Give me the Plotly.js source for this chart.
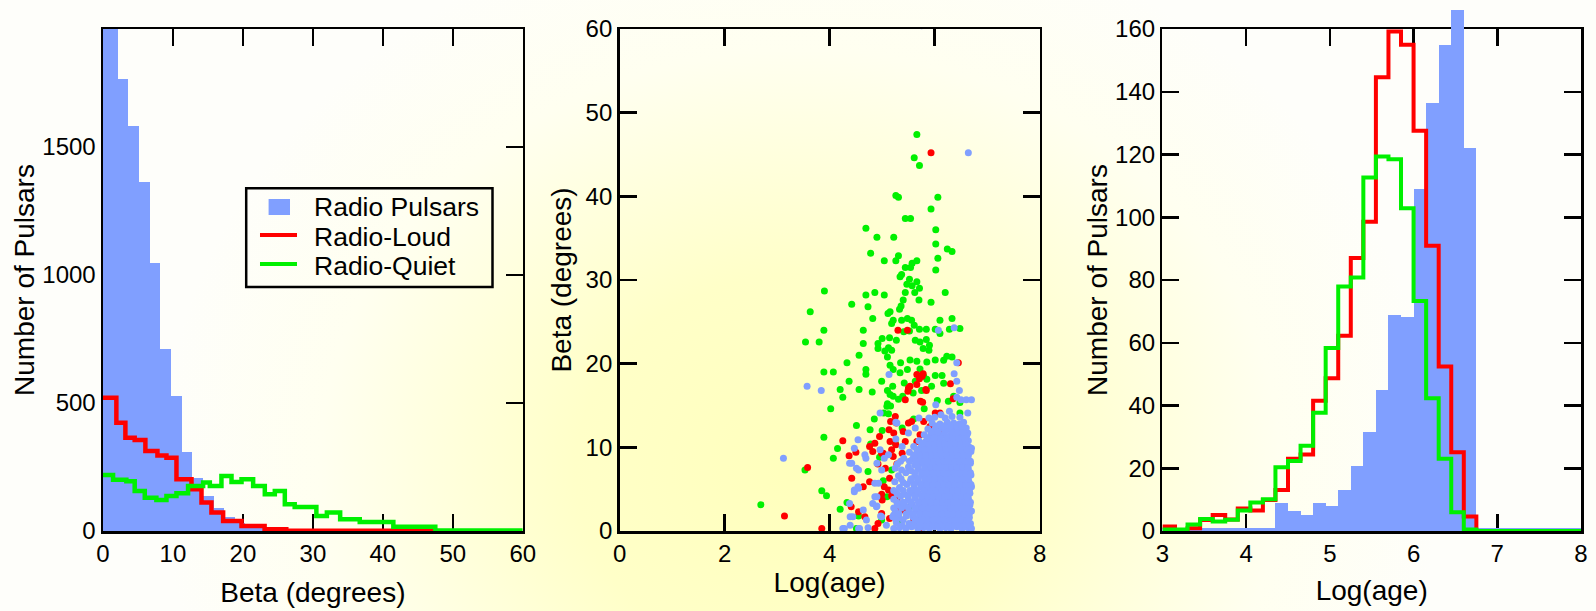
<!DOCTYPE html>
<html><head><meta charset="utf-8">
<script src="https://cdn.plot.ly/plotly-3.0.1.min.js"></script>
<style>
html,body{margin:0;padding:0;width:1596px;height:611px;overflow:hidden;
background: radial-gradient(ellipse 640px 560px at 800px 470px, #ffffbc 0%, #ffffc8 35%, #fffff0 75%, #fefefa 100%);}
#chart{width:1596px;height:611px;}
</style></head><body><div id="chart"></div>
<script>
// ---------- Left panel: histogram of Beta ----------
// Radio pulsars, bins of ~1.52 deg (first bin centred at -0.16)
const betaPulsarCounts = [1960,1960,1763,1580,1363,1045,709,527,310,208,135,90,55,32,18,10,6,4,3,2,
  1.5,1.5,1.5,1.5,1.5,1.5,1.5,1.5,1.5,1.5,1.5,1.5,1.5,1.5,1.5,1.5,1.5,1.5,1.5,1.5];
const betaLoudEdges  = [0,1.91,3.2,4.53,6.06,7.78,9.07,10.5,12.65,14.08,15.5,17.17,19.8,23.1,26.2,47.6];
const betaLoudCounts = [520,423,364,355,312,295,286,202,163,111,72,39,20,7,1];
const betaQuietEdges  = [0,1.44,3.34,4.53,5.97,7.63,9.07,10.5,12.16,14.31,15.27,16.93,18.37,19.8,21.46,23.13,24.56,25.99,27.4,30.5,32.0,33.9,36.7,41.5,47.5,60];
const betaQuietCounts = [219,200,194,156,130,121,137,147,176,189,176,215,191,202,176,143,156,104,94,59,72,46,35,17,2];

// ---------- Middle panel: Beta vs Log(age) ----------
const quietAge = [5.66,5.61,5.71,5.26,5.31,6.06,5.93,5.44,5.54,6.02,
  4.69,4.90,5.22,6.02,6.24,6.33,4.78,5.31,5.26,5.04,
  5.66,5.57,6.06,5.44,5.54,6.02,5.37,5.34,5.52,5.66,
  5.47,5.57,5.71,5.62,3.90,4.69,4.86,5.04,6.20,5.44,
  5.93,5.70,5.40,5.36,5.33,5.15,5.11,4.42,4.73,3.63,
  4.82,6.33,6.10,5.56,5.48,5.21,5.18,5.37,5.84,5.71,
  6.01,5.61,5.52,5.41,5.27,5.14,5.63,5.72,5.84,5.90,
  5.78,5.89,6.10,6.28,6.48,3.89,4.64,3.54,3.80,4.64,
  4.92,4.92,5.00,4.56,4.33,5.05,5.12,4.69,4.69,3.89,
  4.07,4.37,4.20,4.25,4.56,4.81,4.99,5.10,5.10,5.12,
  4.02,4.51,4.77,3.89,4.85,5.00,4.15,4.07,3.53,4.73,
  3.85,3.94,2.69,4.20,4.33,4.55,4.51,4.99,6.23,6.33,
  6.17,6.01,5.85,5.66,5.53,5.21,5.15,5.10,5.18,5.35,
  5.48,5.72,5.79,6.01,6.14,5.85,5.63,5.42,5.34,5.20,
  5.15,5.21,5.31,5.39,5.59,5.75,5.94,6.17,6.36,6.48,
  6.48,6.26,5.09,5.16,5.03,5.09,5.18,5.34,5.53,5.02,
  5.25,5.38,5.60,5.80,6.05,4.95,4.78];
const quietBeta = [47.4,44.6,43.7,40.1,39.9,39.9,38.5,37.35,37.35,36.0,
  36.2,35.1,35.1,34.3,33.7,33.4,33.2,32.9,32.3,32.3,
  32.3,32.0,32.6,31.5,31.5,31.2,30.65,30.4,30.1,29.8,
  29.5,29.3,29.0,28.5,28.7,28.2,28.5,28.2,28.5,28.5,
  27.35,27.6,27.6,26.9,26.5,26.2,26.0,27.1,26.8,26.2,
  25.4,25.4,25.2,25.2,25.4,25.2,24.8,25.2,24.1,24.1,
  24.1,24.6,23.9,23.8,22.8,23.1,22.8,22.6,22.9,22.2,
  21.8,21.6,23.6,24.1,24.2,24.0,24.0,22.6,22.6,22.4,
  22.4,21.8,23.0,21.0,20.1,21.5,21.9,19.3,18.75,19.0,
  19.0,17.9,16.9,16.0,16.9,16.6,17.9,16.8,15.2,14.0,
  14.6,12.6,12.1,11.2,13.4,12.0,9.85,8.7,7.3,7.1,
  4.8,4.2,3.15,2.6,3.4,1.8,0.3,1.3,20.9,20.8,
  20.4,20.45,20.2,20.3,20.45,19.3,19.8,20.8,21.6,20.1,
  19.3,19.35,18.5,18.6,18.6,18.15,17.9,17.7,18.9,17.3,
  16.3,16.1,15.75,16.1,16.5,16.8,17.3,17.65,16.1,15.35,
  14.1,15.5,14.9,14.95,14.1,4.1,7.3,0.9,2.9,6.0,
  10.5,12.3,13.4,14.6,15.6,8.8,10.4];

const loudAge = [5.93,5.30,5.48,4.25,4.37,4.50,3.58,3.14,3.85,6.45,
  5.78,5.76,5.71,5.53,5.49,5.84,5.44,5.73,5.77,6.30,
  6.35,5.25,5.16,5.27,6.10,5.56,5.79,5.91,6.07,5.98,
  5.85,5.72,5.66,5.40,5.44,5.15,5.18,5.02,5.21,5.06,
  5.28,5.14,5.04,5.00,5.18,5.28,5.40,5.60,5.72,4.86,
  4.82,4.95,5.13,5.26,4.99,4.42,4.55,4.76,4.64,4.92,
  4.86,5.14,4.99,5.26,4.95,4.41,4.67,4.99,5.12,5.22,
  5.38,5.50,5.66,5.50,5.83,6.01,5.66,4.76,4.92];
const loudBeta = [45.2,24.0,24.0,10.8,9.0,9.4,7.6,1.8,0.3,20.1,
  18.8,18.5,18.2,17.3,16.7,16.8,15.7,15.5,15.4,17.6,
  15.8,13.7,13.1,12.9,14.1,13.1,13.1,12.5,11.9,11.2,
  10.7,11.5,10.7,11.9,10.7,10.7,9.7,9.3,8.9,7.5,
  8.0,6.3,5.3,3.7,4.2,3.7,2.5,1.3,0.3,10.5,
  9.5,11.3,12.1,10.3,9.3,6.3,2.3,5.9,5.3,0.9,
  0.3,1.5,2.1,2.7,4.1,2.9,1.7,4.4,4.9,11.7,
  9.3,12.9,17.5,17.1,16.9,14.1,18.7,10.1,8.0];

const pulsarAge = [
  6.64,5.75,3.12,3.57,3.84,5.13,6.07,6.37,6.42,5.28,4.96,4.54,4.47,4.67,4.38,4.51,4.54,4.47,4.38,4.44,
  4.28,4.57,4.73,4.70,4.86,4.89,4.99,4.93,5.25,5.12,4.96,5.38,5.50,5.63,5.70,5.89,6.02,6.12,6.28,6.37,
  6.42,6.47,6.42,6.50,6.60,6.70,6.63,6.60,6.63,6.70,6.37,5.26,5.26,4.69,4.90,4.42,4.55,4.47,4.55,4.86,
  4.99,5.04,4.90,4.82,4.64,4.39,4.39,4.25,4.55,5.08,5.22,4.97,4.90,
  5.22,5.33,5.45,5.56,5.68,5.79,5.90,6.00,6.10,6.21,6.31,6.42,6.52,6.63,6.70,
  5.27,5.51,5.62,5.74,5.85,5.95,6.05,6.16,6.26,6.37,6.47,6.58,6.68,
  5.20,5.32,5.46,5.58,5.70,5.81,5.92,6.02,6.12,6.23,6.33,6.44,6.55,6.66,
  5.25,5.52,5.65,5.77,5.88,5.98,6.09,6.19,6.30,6.40,6.50,6.61,6.70,
  5.30,5.44,5.57,5.70,5.82,5.94,6.04,6.14,6.25,6.36,6.46,6.57,6.67,
  5.22,5.50,5.63,5.76,5.88,5.99,6.10,6.20,6.31,6.42,6.53,6.64,
  5.28,5.42,5.56,5.69,5.81,5.92,6.03,6.14,6.24,6.35,6.45,6.56,6.67,
  5.33,5.61,5.74,5.86,5.97,6.07,6.18,6.28,6.39,6.50,6.61,6.70,
  5.24,5.40,5.54,5.67,5.80,5.91,6.01,6.12,6.22,6.33,6.43,6.54,6.65,
  5.31,5.62,5.75,5.86,5.96,6.06,6.17,6.27,6.38,6.48,6.59,6.69,
  5.37,5.55,5.69,5.81,5.92,6.02,6.12,6.22,6.32,6.43,6.53,6.64,
  5.29,5.62,5.75,5.87,5.97,6.07,6.17,6.27,6.37,6.48,6.58,6.68,
  5.41,5.58,5.71,5.83,5.93,6.03,6.13,6.23,6.33,6.43,6.53,6.63,
  5.52,5.66,5.78,5.89,5.99,6.09,6.19,6.29,6.39,6.49,6.59,6.69,
  5.60,5.74,5.86,5.96,6.06,6.16,6.26,6.36,6.46,6.56,6.66,
  5.70,5.83,5.94,6.04,6.14,6.24,6.34,6.44,6.54,6.64,
  5.80,5.93,6.05,6.17,6.29,6.40,6.51,6.61,
  5.87,6.00,6.13,6.26,6.38,6.50,6.58,
  5.95,6.10,6.24,6.36,6.47,6.55,
  6.00,6.20,6.33,6.48,
  5.38,5.60,5.72,5.84,5.96,6.06,6.16,6.27,6.37,6.47,6.58,6.67,
  5.26,5.40,5.64,5.76,5.87,5.97,6.08,6.18,6.29,6.39,6.50,6.61,
  5.32,5.46,5.59,5.71,5.83,5.93,6.04,6.14,6.25,6.35,6.45,6.56,6.66,
  5.22,5.37,5.50,5.63,5.76,5.88,5.99,6.09,6.20,6.30,6.41,6.52,6.62,
  5.28,5.40,5.55,5.69,5.81,5.93,6.04,6.15,6.25,6.36,6.47,6.58,6.68,
  5.35,5.49,5.62,5.75,5.87,5.97,6.08,6.19,6.29,6.40,6.51,6.61,
  5.22,5.40,5.53,5.67,5.80,5.92,6.02,6.13,6.23,6.34,6.44,6.55,6.66,
  5.47,5.60,5.73,5.86,5.96,6.07,6.17,6.27,6.38,6.48,6.59,6.69,
  5.36,5.55,5.69,5.81,5.91,6.01,6.11,6.22,6.33,6.43,6.54,6.64,
  5.45,5.62,5.75,5.87,5.97,6.07,6.17,6.27,6.37,6.48,6.58,6.68,
  5.50,5.68,5.81,5.92,6.02,6.12,6.22,6.32,6.42,6.53,6.63,
  5.35,5.52,5.65,5.77,5.88,5.98,6.08,6.18,6.28,6.38,6.48,6.58,6.68,
  5.60,5.72,5.83,5.94,6.04,6.14,6.24,6.34,6.44,6.54,6.64,
  5.66,5.80,5.91,6.01,6.11,6.21,6.31,6.41,6.51,6.61,
  5.76,5.89,5.99,6.09,6.19,6.29,6.39,6.49,6.59,
  5.86,5.99,6.11,6.23,6.34,6.45,6.56,
  5.93,6.06,6.19,6.32,6.44,6.54,
  6.02,6.17,6.30,6.42,6.51];
const pulsarBeta = [
  45.2,60.4,8.7,17.3,16.8,18.7,24.0,24.3,20.1,12.9,14.1,10.9,9.9,9.1,8.1,7.5,5.3,4.7,3.3,1.7,
  0.3,0.3,0.4,1.3,4.1,2.9,1.7,5.7,7.5,9.1,9.7,10.1,11.7,12.3,13.5,13.5,15.1,13.9,14.3,18.8,
  17.9,16.8,16.0,15.7,15.7,15.7,14.1,12.3,11.7,9.9,12.5,13.0,11.0,8.7,8.1,8.1,7.3,4.9,5.1,5.7,
  7.3,8.7,4.1,3.3,2.5,1.7,0.7,0.3,0.3,0.7,1.9,1.8,3.0,
  0.3,0.4,0.3,0.5,0.3,0.4,0.3,0.5,0.3,0.4,0.3,0.5,0.3,0.4,0.3,
  1.0,0.9,1.1,0.9,1.0,1.1,0.9,1.0,1.1,0.9,1.0,1.1,0.9,
  1.7,1.6,1.8,1.7,1.6,1.8,1.7,1.6,1.8,1.7,1.6,1.8,1.7,1.6,
  2.4,2.3,2.5,2.4,2.3,2.5,2.4,2.3,2.5,2.4,2.3,2.5,2.4,
  3.1,3.0,3.2,3.1,3.0,3.2,3.1,3.0,3.2,3.1,3.0,3.2,3.1,
  3.8,3.7,3.9,3.8,3.7,3.9,3.8,3.7,3.9,3.8,3.7,3.9,
  4.5,4.4,4.6,4.5,4.4,4.6,4.5,4.4,4.6,4.5,4.4,4.6,4.5,
  5.2,5.1,5.3,5.2,5.1,5.3,5.2,5.1,5.3,5.2,5.1,5.3,
  5.9,5.8,6.0,5.9,5.8,6.0,5.9,5.8,6.0,5.9,5.8,6.0,5.9,
  6.6,6.5,6.7,6.6,6.5,6.7,6.6,6.5,6.7,6.6,6.5,6.7,
  7.3,7.2,7.4,7.3,7.2,7.4,7.3,7.2,7.4,7.3,7.2,7.4,
  8.0,7.9,8.1,8.0,7.9,8.1,8.0,7.9,8.1,8.0,7.9,8.1,
  8.7,8.6,8.8,8.7,8.6,8.8,8.7,8.6,8.8,8.7,8.6,8.8,
  9.4,9.3,9.5,9.4,9.3,9.5,9.4,9.3,9.5,9.4,9.3,9.5,
  10.1,10.0,10.2,10.1,10.0,10.2,10.1,10.0,10.2,10.1,10.0,
  10.8,10.7,10.9,10.8,10.7,10.9,10.8,10.7,10.9,10.8,
  11.5,11.4,11.6,11.5,11.4,11.6,11.5,11.4,
  12.2,12.1,12.3,12.2,12.1,12.3,12.2,
  12.9,12.8,13.0,12.9,12.8,13.0,
  13.6,13.5,13.7,13.6,
  0.65,0.65,0.65,0.65,0.65,0.65,0.65,0.65,0.65,0.65,0.65,0.65,
  1.35,1.35,1.35,1.35,1.35,1.35,1.35,1.35,1.35,1.35,1.35,1.35,
  2.05,2.05,2.05,2.05,2.05,2.05,2.05,2.05,2.05,2.05,2.05,2.05,2.05,
  2.75,2.75,2.75,2.75,2.75,2.75,2.75,2.75,2.75,2.75,2.75,2.75,2.75,
  3.45,3.45,3.45,3.45,3.45,3.45,3.45,3.45,3.45,3.45,3.45,3.45,3.45,
  4.15,4.15,4.15,4.15,4.15,4.15,4.15,4.15,4.15,4.15,4.15,4.15,
  4.85,4.85,4.85,4.85,4.85,4.85,4.85,4.85,4.85,4.85,4.85,4.85,4.85,
  5.55,5.55,5.55,5.55,5.55,5.55,5.55,5.55,5.55,5.55,5.55,5.55,
  6.25,6.25,6.25,6.25,6.25,6.25,6.25,6.25,6.25,6.25,6.25,6.25,
  6.95,6.95,6.95,6.95,6.95,6.95,6.95,6.95,6.95,6.95,6.95,6.95,
  7.65,7.65,7.65,7.65,7.65,7.65,7.65,7.65,7.65,7.65,7.65,
  8.35,8.35,8.35,8.35,8.35,8.35,8.35,8.35,8.35,8.35,8.35,8.35,8.35,
  9.05,9.05,9.05,9.05,9.05,9.05,9.05,9.05,9.05,9.05,9.05,
  9.75,9.75,9.75,9.75,9.75,9.75,9.75,9.75,9.75,9.75,
  10.45,10.45,10.45,10.45,10.45,10.45,10.45,10.45,10.45,
  11.15,11.15,11.15,11.15,11.15,11.15,11.15,
  11.85,11.85,11.85,11.85,11.85,11.85,
  12.55,12.55,12.55,12.55,12.55];

// ---------- Right panel: histogram of Log(age) (bins of 0.15 from 2.85) ----------
const agePulsarCounts = [0.9,0.9,0.9,0.9,0.9,0.9,0.9,0.9,0.9,0.9,
  8.8,6.5,5.0,8.8,8.0,13.2,20.7,31.7,45.1,68.9,68.3,109,136.3,154.9,166,122.2,
  0.9,0.9,0.9,0.9,0.9,0.9,0.9,0.9,0.9,0.9];
const ageLoudEdges  = [3.0,3.15,3.3,3.45,3.6,3.75,3.9,4.05,4.2,4.35,4.5,4.65,4.8,4.95,5.1,5.25,5.4,5.55,5.7,5.85,6.0,6.15,6.3,6.45,6.6,6.75];
const ageLoudCounts = [1.4,0,0.9,3.5,5.1,3.7,7.2,6.5,9.9,13.1,23.0,24.4,41.5,48.7,62.2,87.0,98.6,144.6,159.2,155.0,127.6,90.9,52.4,25.1,4.6,0];
const ageQuietEdges  = [3.0,3.15,3.3,3.45,3.6,3.75,3.9,4.05,4.2,4.35,4.5,4.65,4.8,4.95,5.1,5.25,5.4,5.55,5.7,5.85,6.0,6.15,6.3,6.45,6.6,6.75,8.0];
const ageQuietCounts = [0.5,0.5,2.1,3.8,3.0,3.6,6.5,9.1,10.1,20.3,22.3,27.2,37.7,58.3,77.9,80.8,112.7,119.4,118.5,102.9,73.3,42.3,23.0,6.0,0.5,0];

// Legend labels
const legendLabels = ['Radio Pulsars', 'Radio-Loud', 'Radio-Quiet'];

const stepY = (counts, edges) => counts.concat(counts.slice(counts.length - 1)).slice(0, edges.length);

const FONT = 'Liberation Sans, Arial, Helvetica, sans-serif';
const BLUE = '#809fff', RED = '#ff0000', GREEN = '#00f000';

const traces = [
  {type:'bar', name:legendLabels[0], x0:-0.16, dx:1.52, width:1.52, y:betaPulsarCounts,
   marker:{color:BLUE, line:{width:0}}, xaxis:'x', yaxis:'y', hoverinfo:'skip'},
  {type:'scatter', mode:'lines', name:legendLabels[1], x:betaLoudEdges, y:stepY(betaLoudCounts, betaLoudEdges),
   line:{shape:'hv', color:RED, width:4.5}, xaxis:'x', yaxis:'y'},
  {type:'scatter', mode:'lines', name:legendLabels[2], x:betaQuietEdges, y:stepY(betaQuietCounts, betaQuietEdges),
   line:{shape:'hv', color:GREEN, width:4.5}, xaxis:'x', yaxis:'y'},

  {type:'scatter', mode:'markers', name:legendLabels[2], x:quietAge, y:quietBeta,
   marker:{color:GREEN, size:7}, xaxis:'x2', yaxis:'y2'},
  {type:'scatter', mode:'markers', name:legendLabels[1], x:loudAge, y:loudBeta,
   marker:{color:RED, size:7}, xaxis:'x2', yaxis:'y2'},
  {type:'scatter', mode:'markers', name:legendLabels[0], x:pulsarAge, y:pulsarBeta,
   marker:{color:BLUE, size:7}, xaxis:'x2', yaxis:'y2'},

  // empty trace so the framed right-hand subplot (x3/y3) with its axes exists
  {type:'scatter', mode:'lines', x:[], y:[], xaxis:'x3', yaxis:'y3', hoverinfo:'skip'},
  // right panel traces live on a hidden, taller y axis with the same scale (so the tallest bar can rise above the frame)
  {type:'bar', name:legendLabels[0], x0:2.925, dx:0.15, width:0.15, y:agePulsarCounts,
   marker:{color:BLUE, line:{width:0}}, xaxis:'x3', yaxis:'y4', cliponaxis:false},
  {type:'scatter', mode:'lines', name:legendLabels[1], x:ageLoudEdges, y:stepY(ageLoudCounts, ageLoudEdges),
   line:{shape:'hv', color:RED, width:4}, xaxis:'x3', yaxis:'y4'},
  {type:'scatter', mode:'lines', name:legendLabels[2], x:ageQuietEdges, y:stepY(ageQuietCounts, ageQuietEdges),
   line:{shape:'hv', color:GREEN, width:4}, xaxis:'x3', yaxis:'y4'}
];

function ax(extra){
  return Object.assign({
    showline:true, linecolor:'#000', linewidth:2.5, mirror:'ticks',
    ticks:'inside', ticklen:17, tickwidth:2.5, tickcolor:'#000',
    showgrid:false, zeroline:false, layer:'below traces', fixedrange:true,
    tickfont:{family:FONT, size:24, color:'#000'}
  }, extra);
}
const tf = {family:FONT, size:28, color:'#000'};
const TOP = 502/531;   // top of the framed plot areas (paper fraction)

// hand-drawn legend box inside the left panel (paper coords)
const LG = {x0:0.09689, x1:0.26353, y0:0.45951, y1:0.64539, symX0:0.10622, symX1:0.13126,
  boxX0:0.11204, boxX1:0.12652, boxY0:0.59510, boxY1:0.62524, textX:0.14188,
  rows:[0.61111,0.55461,0.49812], lineY:[0.55744,0.50282]};

const layout = {
  width:1596, height:611,
  margin:{l:103, r:15, t:0, b:80},
  paper_bgcolor:'rgba(0,0,0,0)', plot_bgcolor:'rgba(0,0,0,0)',
  bargap:0, barmode:'overlay',
  font:{family:FONT, color:'#000'},
  showlegend:false,
  xaxis: ax({domain:[0,0.2840], range:[0,60], tick0:0, dtick:10, anchor:'y',
    title:{text:'Beta (degrees)', font:tf, standoff:16}}),
  yaxis: ax({domain:[0,TOP], range:[0,1960], tick0:0, dtick:500, anchor:'x',
    title:{text:'Number of Pulsars', font:tf, standoff:0}}),
  xaxis2: ax({domain:[0.3495,0.6338], range:[0,8], tick0:0, dtick:2, anchor:'y2',
    title:{text:'Log(age)', font:tf, standoff:2}}),
  yaxis2: ax({domain:[0,TOP], range:[0,60], tick0:0, dtick:10, anchor:'x2',
    title:{text:'Beta (degrees)', font:tf, standoff:6}}),
  xaxis3: ax({domain:[0.7168,1], range:[3,8], tick0:3, dtick:1, anchor:'y3',
    title:{text:'Log(age)', font:tf, standoff:14}}),
  yaxis3: ax({domain:[0,TOP], range:[0,160], tick0:0, dtick:20, anchor:'x3',
    title:{text:'Number of Pulsars', font:tf, standoff:0}}),
  yaxis4: {domain:[0,1], range:[0,160/TOP], anchor:'x3', visible:false, fixedrange:true},
  shapes:[
    {type:'rect', xref:'paper', yref:'paper', x0:LG.x0, x1:LG.x1, y0:LG.y0, y1:LG.y1,
     line:{color:'#000', width:2.5}, fillcolor:'rgba(0,0,0,0)'},
    {type:'rect', xref:'paper', yref:'paper', x0:LG.boxX0, x1:LG.boxX1, y0:LG.boxY0, y1:LG.boxY1,
     line:{width:0}, fillcolor:BLUE},
    {type:'line', xref:'paper', yref:'paper', x0:LG.symX0, x1:LG.symX1, y0:LG.lineY[0], y1:LG.lineY[0],
     line:{color:RED, width:4}},
    {type:'line', xref:'paper', yref:'paper', x0:LG.symX0, x1:LG.symX1, y0:LG.lineY[1], y1:LG.lineY[1],
     line:{color:GREEN, width:4}}
  ],
  annotations: legendLabels.map((t,i)=>({text:t, xref:'paper', yref:'paper', x:LG.textX, y:LG.rows[i],
    xanchor:'left', yanchor:'middle', showarrow:false, borderpad:0,
    font:{family:FONT, size:26.5, color:'#000'}}))
};

Plotly.newPlot('chart', traces, layout, {displayModeBar:false, staticPlot:true});
</script></body></html>
